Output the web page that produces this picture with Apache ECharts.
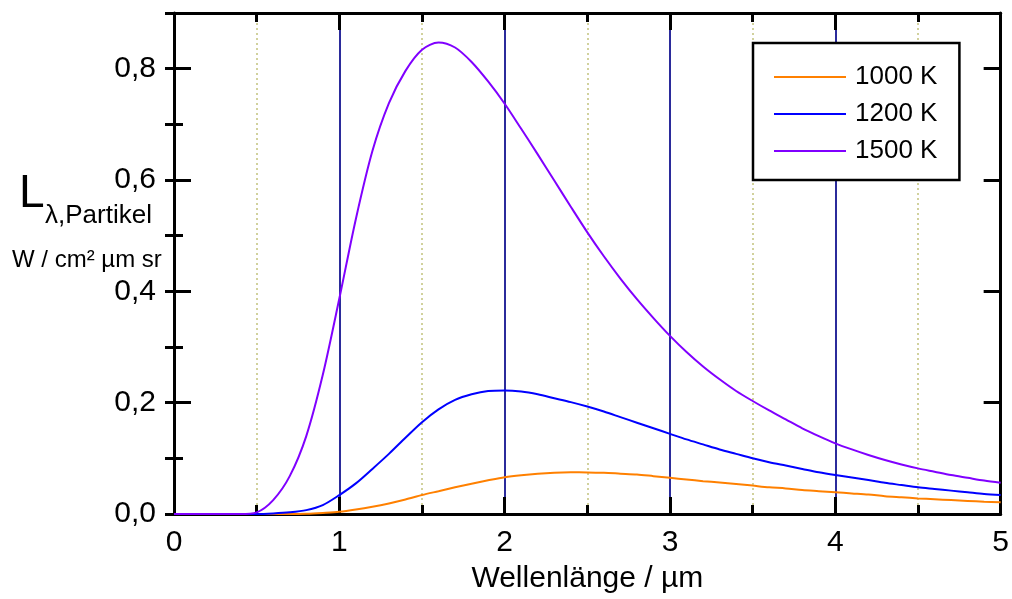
<!DOCTYPE html>
<html>
<head>
<meta charset="utf-8">
<script src="https://cdn.jsdelivr.net/npm/echarts@6/dist/echarts.min.js"></script>
<style>
  html, body { margin: 0; padding: 0; background: #fff; }
  #main { width: 1012px; height: 599px; }
</style>
</head>
<body>
<div id="main"></div>
<script>
// Wellenlänge in µm
var wavelength = [0.0, 0.1, 0.2, 0.3, 0.4, 0.5, 0.6, 0.7, 0.8, 0.9,
    1.0, 1.1, 1.2, 1.3, 1.4, 1.5, 1.6, 1.7, 1.8, 1.9,
    2.0, 2.1, 2.2, 2.3, 2.4, 2.5, 2.6, 2.7, 2.8, 2.9,
    3.0, 3.1, 3.2, 3.3, 3.4, 3.5, 3.6, 3.7, 3.8, 3.9,
    4.0, 4.1, 4.2, 4.3, 4.4, 4.5, 4.6, 4.7, 4.8, 4.9, 5.0];

var l1000 = [0, 0, 0, 0, 0, 0, 0, 0, 0.0005, 0.002,
    0.004, 0.008, 0.013, 0.019, 0.026, 0.034, 0.041, 0.048, 0.0545, 0.0605,
    0.066, 0.0697, 0.0724, 0.0741, 0.0748, 0.0747, 0.074, 0.0725, 0.071, 0.068,
    0.065, 0.062, 0.059, 0.0565, 0.054, 0.051, 0.048, 0.046, 0.043, 0.041,
    0.039, 0.037, 0.035, 0.032, 0.030, 0.028, 0.0265, 0.025, 0.0235, 0.022, 0.021];

var l1200 = [0, 0, 0, 0, 0, 0, 0.001, 0.003, 0.007, 0.016,
    0.034, 0.055, 0.081, 0.108, 0.137, 0.165, 0.188, 0.205, 0.215, 0.221,
    0.222, 0.220, 0.215, 0.208, 0.201, 0.193, 0.184, 0.174, 0.164, 0.154,
    0.144, 0.134, 0.125, 0.116, 0.108, 0.100, 0.093, 0.087, 0.081, 0.075,
    0.070, 0.0655, 0.061, 0.056, 0.052, 0.048, 0.045, 0.042, 0.039, 0.036, 0.034];

var l1500 = [0, 0, 0, 0, 0, 0.003, 0.025, 0.068, 0.140, 0.250,
    0.387, 0.530, 0.652, 0.738, 0.796, 0.834, 0.847, 0.838, 0.812, 0.777,
    0.737, 0.692, 0.646, 0.599, 0.552, 0.506, 0.463, 0.423, 0.386, 0.352,
    0.320, 0.291, 0.265, 0.242, 0.221, 0.203, 0.186, 0.170, 0.154, 0.140,
    0.127, 0.116, 0.106, 0.097, 0.089, 0.082, 0.076, 0.070, 0.065, 0.060, 0.056];

var seriesNames = ['1000 K', '1200 K', '1500 K'];
var seriesColors = ['#ff8000', '#0000ff', '#8000ff'];

var fontFam = '"Liberation Sans", Arial, sans-serif';

function pairs(ys) {
    return wavelength.map(function (x, i) { return [x, ys[i]]; });
}

var myChart = echarts.init(document.getElementById('main'));

var frame = { show: true, onZero: false, lineStyle: { color: '#000', width: 3 } };
var majorTick = { show: true, inside: true, length: 17, lineStyle: { color: '#000', width: 3 } };
var minorTick = { show: true, inside: true, length: 9, lineStyle: { color: '#000', width: 3 } };

function yAxisDef(pos, interval, tick, showLine, labels) {
    return {
        type: 'value', min: 0, max: 0.9, interval: interval, position: pos,
        axisLine: showLine ? frame : { show: false },
        axisTick: tick,
        splitLine: { show: false },
        axisLabel: labels ? {
            show: true, color: '#000', fontSize: 30, fontFamily: fontFam, margin: 18,
            formatter: function (v) {
                if (v > 0.85) return '';
                return v.toFixed(1).replace('.', ',');
            }
        } : { show: false }
    };
}

option = {
    backgroundColor: '#fff',
    animation: false,
    color: seriesColors,
    grid: { left: 174, right: 10, top: 13, bottom: 84 },
    legend: {
        data: seriesNames,
        orient: 'vertical',
        left: 753, top: 43,
        padding: [21, 22, 16, 21],
        icon: 'rect',
        itemWidth: 72, itemHeight: 2, itemGap: 11,
        borderColor: '#000', borderWidth: 2.5, borderRadius: 0,
        backgroundColor: '#fff',
        textStyle: { color: '#000', fontSize: 26, fontFamily: fontFam, padding: [0, 0, 0, 4] }
    },
    graphic: [
        { type: 'text', style: { x: 19, y: 194, text: 'L', font: '46px ' + fontFam, fill: '#000', verticalAlign: 'middle' } },
        { type: 'text', style: { x: 45, y: 216, text: 'λ,Partikel', font: '26px ' + fontFam, fill: '#000', verticalAlign: 'middle' } },
        { type: 'text', style: { x: 12, y: 260, text: 'W / cm² µm sr', font: '24px ' + fontFam, fill: '#000', verticalAlign: 'middle' } }
    ],
    xAxis: [{
        type: 'value', min: 0, max: 5, interval: 1, position: 'bottom',
        axisLine: frame,
        axisTick: majorTick,
        minorTick: { show: true, splitNumber: 2, length: 9, lineStyle: { color: '#000', width: 3 } },
        axisLabel: { color: '#000', fontSize: 30, fontFamily: fontFam, margin: 14 },
        splitLine: { show: true, lineStyle: { color: '#2b2b9b', width: 2 } },
        minorSplitLine: { show: true, lineStyle: { color: '#c2c27e', width: 1.5, type: [2, 3] } },
        name: 'Wellenlänge / µm',
        nameLocation: 'middle',
        nameGap: 50,
        nameTextStyle: { color: '#000', fontSize: 30, fontFamily: fontFam }
    }, {
        type: 'value', min: 0, max: 5, interval: 1, position: 'top',
        axisLine: frame,
        axisTick: majorTick,
        minorTick: { show: true, splitNumber: 2, length: 9, lineStyle: { color: '#000', width: 3 } },
        axisLabel: { show: false },
        splitLine: { show: false }
    }],
    yAxis: [
        yAxisDef('left', 0.2, majorTick, true, true),
        yAxisDef('left', 0.1, minorTick, false, false),
        yAxisDef('right', 0.2, majorTick, true, false),
        yAxisDef('right', 0.1, minorTick, false, false)
    ],
    series: [l1000, l1200, l1500].map(function (ys, i) {
        return {
            name: seriesNames[i],
            type: 'line',
            xAxisIndex: 0,
            yAxisIndex: 0,
            symbol: 'none',
            smooth: 0.3,
            lineStyle: { width: 2, color: seriesColors[i] },
            data: pairs(ys)
        };
    })
};

myChart.clear();
myChart.setOption(option);
</script>
</body>
</html>
